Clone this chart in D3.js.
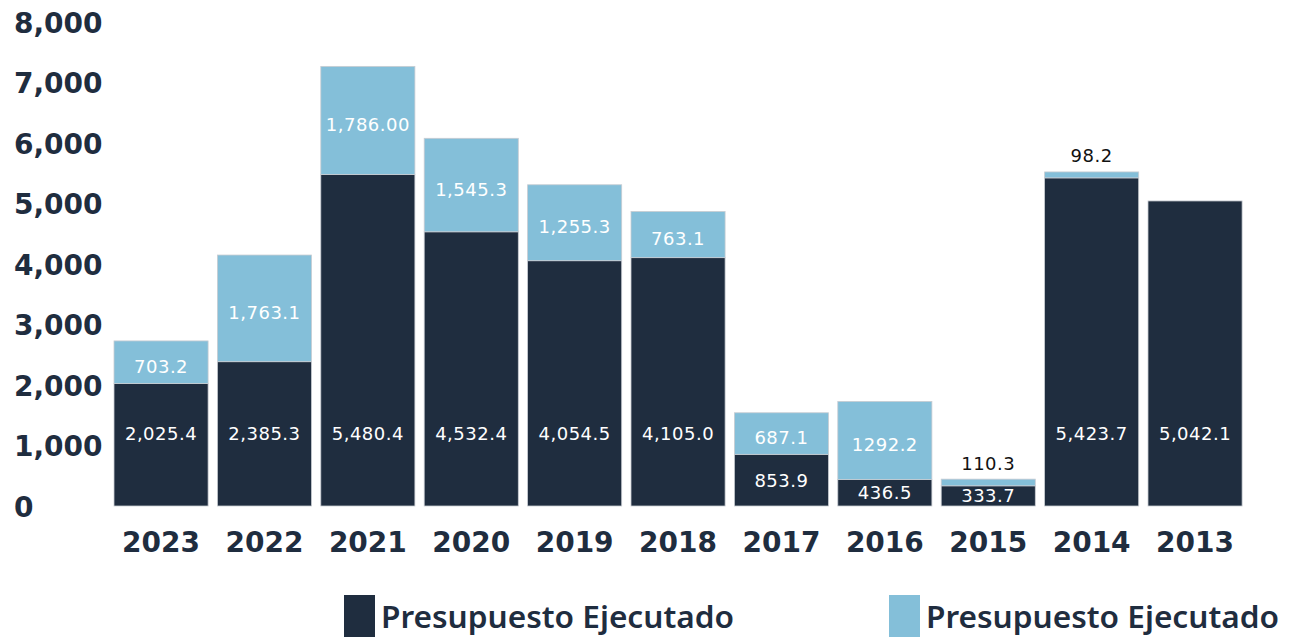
<!DOCTYPE html>
<html>
<head>
<meta charset="utf-8">
<script src="https://cdn.jsdelivr.net/npm/d3@7"></script>
<style>
  html, body { margin: 0; padding: 0; background: #fff; }
  svg { display: block; }
</style>
</head>
<body>
<svg id="chart" width="1293" height="637"></svg>
<script>
const years = ['2023', '2022', '2021', '2020', '2019', '2018', '2017', '2016', '2015', '2014', '2013'];
const executed = [2025.4, 2385.3, 5480.4, 4532.4, 4054.5, 4105.0, 853.9, 436.5, 333.7, 5423.7, 5042.1];
const extra = [703.2, 1763.1, 1786.0, 1545.3, 1255.3, 763.1, 687.1, 1292.2, 110.3, 98.2, 0];
const executedLabels = ['2,025.4', '2,385.3', '5,480.4', '4,532.4', '4,054.5', '4,105.0', '853.9', '436.5', '333.7', '5,423.7', '5,042.1'];
const extraLabels = ['703.2', '1,763.1', '1,786.00', '1,545.3', '1,255.3', '763.1', '687.1', '1292.2', '110.3', '98.2', ''];
const yTicks = [0, 1000, 2000, 3000, 4000, 5000, 6000, 7000, 8000];
const legendLabels = ['Presupuesto Ejecutado', 'Presupuesto Ejecutado'];

const dark = '#1f2d3f';
const light = '#84bfd9';

const svg = d3.select('#chart');

const x = d3.scaleBand()
    .domain(years)
    .range([104.7, 1251.4])
    .paddingInner(0.09)
    .paddingOuter(0.09);

const y = d3.scaleLinear()
    .domain([0, 8000])
    .range([506, 22]);

// y axis: labels only, left aligned
const yAxis = svg.append('g')
    .attr('transform', 'translate(14,0)')
    .call(d3.axisLeft(y).tickValues(yTicks).tickSize(0).tickFormat(d3.format(',')));
yAxis.select('.domain').remove();
yAxis.selectAll('text')
    .attr('x', 0)
    .attr('text-anchor', 'start')
    .attr('dy', '0.36em')
    .style('font-family', 'DejaVu Sans')
    .style('font-weight', 'bold')
    .style('font-size', '28px')
    .style('fill', dark);

const rows = years.map((yr, i) => ({
    year: yr,
    a: executed[i],
    b: extra[i],
    la: executedLabels[i],
    lb: extraLabels[i]
}));

const bars = svg.append('g').selectAll('g')
    .data(rows)
    .enter()
    .append('g');

bars.append('rect')
    .attr('x', d => x(d.year))
    .attr('width', x.bandwidth())
    .attr('y', d => y(d.a))
    .attr('height', d => y(0) - y(d.a))
    .attr('fill', dark)
    .attr('stroke', '#c8ccd2')
    .attr('stroke-width', 0.8);

bars.filter(d => d.b > 0)
    .append('rect')
    .attr('x', d => x(d.year))
    .attr('width', x.bandwidth())
    .attr('y', d => y(d.a + d.b))
    .attr('height', d => y(d.a) - y(d.a + d.b))
    .attr('fill', light)
    .attr('stroke', '#c8ccd2')
    .attr('stroke-width', 0.8);

const labelFont = sel => sel
    .attr('text-anchor', 'middle')
    .attr('dy', '0.36em')
    .style('font-family', 'DejaVu Sans')
    .style('font-size', '18px')
    .style('letter-spacing', '0.5px');

// executed value labels
bars.append('text')
    .call(labelFont)
    .attr('x', d => x(d.year) + x.bandwidth() / 2)
    .attr('y', d => d.a > 1500 ? y(1200) : y(d.a / 2))
    .style('fill', '#fff')
    .text(d => d.la);

// extra value labels: inside if there is room, above otherwise
bars.filter(d => d.b > 0)
    .append('text')
    .call(labelFont)
    .attr('x', d => x(d.year) + x.bandwidth() / 2)
    .attr('y', d => d.b > 300 ? y(d.a + d.b / 2) + 4 : y(d.a + d.b) - 16)
    .style('fill', d => d.b > 300 ? '#fff' : '#111')
    .text(d => d.lb);

// year labels
svg.append('g').selectAll('text')
    .data(years)
    .enter()
    .append('text')
    .attr('x', d => x(d) + x.bandwidth() / 2)
    .attr('y', 552)
    .attr('text-anchor', 'middle')
    .style('font-family', 'DejaVu Sans')
    .style('font-weight', 'bold')
    .style('font-size', '28px')
    .style('fill', dark)
    .text(d => d);

// legend
const legend = svg.append('g').selectAll('g')
    .data(legendLabels)
    .enter()
    .append('g')
    .attr('transform', (d, i) => `translate(${i ? 889 : 344},0)`);

legend.append('rect')
    .attr('x', 0)
    .attr('y', 595)
    .attr('width', 31)
    .attr('height', 42)
    .attr('fill', (d, i) => i ? light : dark);

legend.append('text')
    .attr('x', 37)
    .attr('y', 628)
    .attr('textLength', 353)
    .attr('lengthAdjust', 'spacingAndGlyphs')
    .style('font-family', 'Noto Sans')
    .style('font-weight', 600)
    .style('font-size', '30px')
    .style('fill', dark)
    .text(d => d);
</script>
</body>
</html>
